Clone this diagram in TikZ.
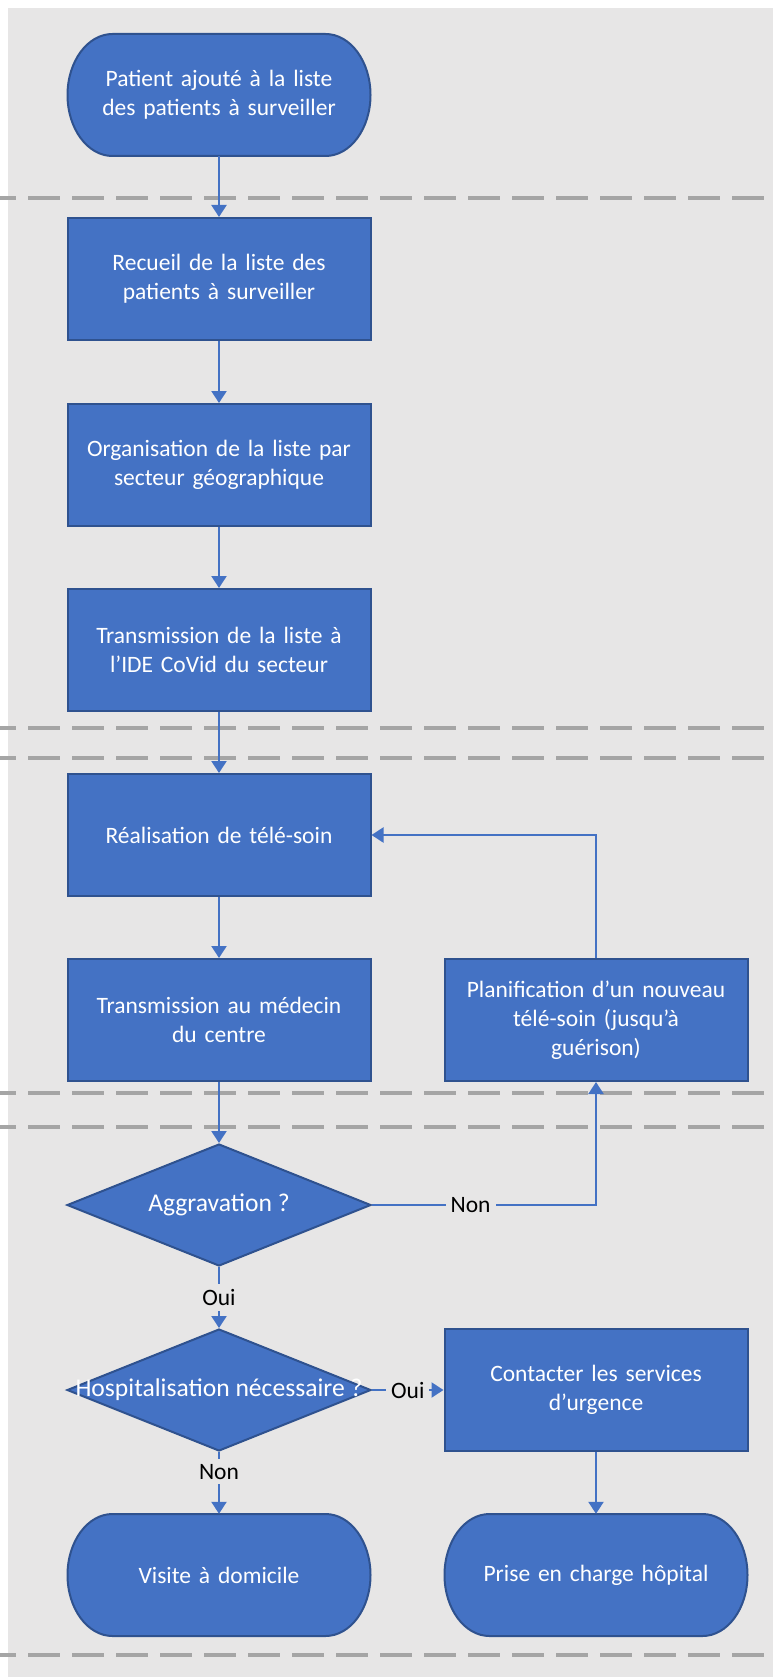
\documentclass[tikz,border=0pt]{standalone}
\usepackage{fontspec}
\setmainfont{Carlito}
\usepackage{tikz}
\usetikzlibrary{positioning,shapes.geometric,arrows.meta}
\usepackage{xcolor}

\definecolor{boxblue}{HTML}{4472C4}
\definecolor{boxedge}{HTML}{2F528F}
\definecolor{lanegrey}{HTML}{E7E6E6}
\definecolor{dashgrey}{HTML}{A5A5A5}

\tikzset{
  stepbox/.style={rectangle, draw=boxedge, line width=2pt, fill=boxblue, text=white, minimum width=303pt, minimum height=122pt, text width=290pt, align=center, inner sep=0pt},
  termbox/.style={rectangle, minimum width=303pt, minimum height=122pt, text width=290pt, align=center, text=white, inner sep=0pt},
  termshape/.style={draw=boxedge, line width=2pt, fill=boxblue},
  decision/.style={diamond, draw=boxedge, line width=2pt, fill=boxblue, text=white, minimum width=304pt, minimum height=122pt, inner sep=0pt, font=\fontsize{25.6}{31}\selectfont},
  flow/.style={draw=boxblue, line width=2.25pt, -{Triangle[length=12pt,width=15pt]}},
  lane/.style={draw=dashgrey, line width=4pt, dash pattern=on 32pt off 12pt, dash phase=16pt},
  answer/.style={fill=lanegrey, text=black, inner sep=5pt}
}

\newcommand{\terminal}[4]{
  \filldraw[termshape] (#2-106.5,#3-61) -- ++(213,0) arc[start angle=-90, end angle=90, x radius=45, y radius=61] -- ++(-213,0) arc[start angle=90, end angle=270, x radius=45, y radius=61] -- cycle;
  \node[termbox] (#1) at (#2,#3) {#4};
}

\begin{document}
\begin{tikzpicture}[x=1pt, y=-1pt, every node/.style={font=\fontsize{23.5}{29}\selectfont}]
	\useasboundingbox (0,0) rectangle (773,1677);
	\fill[lanegrey] (7.5,8.5) rectangle (773,1677);
	\draw[lane] (0,198)--(773,198);
	\draw[lane] (0,728)--(773,728);
	\draw[lane] (0,758)--(773,758);
	\draw[lane] (0,1093)--(773,1093);
	\draw[lane] (0,1127)--(773,1127);
	\draw[lane] (0,1655)--(773,1655);

	\terminal{start}{219}{95}{Patient ajouté à la liste\\des patients à surveiller}
	\node[stepbox] (recueil) at (219,279) {Recueil de la liste des\\patients à surveiller};
	\node[stepbox] (orga) at (219,465) {Organisation de la liste par\\secteur géographique};
	\node[stepbox] (transliste) at (219,650) {Transmission de la liste à\\l’IDE CoVid du secteur};
	\node[stepbox] (telesoin) at (219,835) {Réalisation de télé-soin};
	\node[stepbox] (transmed) at (219,1020) {Transmission au médecin\\du centre};
	\node[stepbox] (planif) at (596,1020) {Planification d’un nouveau\\télé-soin (jusqu’à\\guérison)};
	\node[decision] (aggrav) at (219,1205) {\makebox[0pt]{Aggravation ?}};
	\node[decision] (hospit) at (219,1390) {\makebox[0pt]{Hospitalisation nécessaire ?}};
	\node[stepbox] (urgence) at (596,1390) {Contacter les services\\d’urgence};
	\terminal{domicile}{219}{1575}{Visite à domicile}
	\terminal{hopital}{596}{1575}{Prise en charge hôpital}

	\draw[flow] (start)--(recueil);
	\draw[flow] (recueil)--(orga);
	\draw[flow] (orga)--(transliste);
	\draw[flow] (transliste)--(telesoin);
	\draw[flow] (telesoin)--(transmed);
	\draw[flow] (transmed)--(aggrav);
	\draw[flow] (aggrav.east) -| node[answer, pos=0.22] {Non} (planif.south);
	\draw[flow] (planif.north) |- (telesoin.east);
	\draw[flow] (aggrav.south) -- node[answer] {Oui} (hospit.north);
	\draw[flow] (hospit.east) -- node[answer] {Oui} (urgence.west);
	\draw[flow] (hospit.south) -- node[answer, pos=0.32] {Non} (domicile.north);
	\draw[flow] (urgence)--(hopital);
\end{tikzpicture}
\end{document}
